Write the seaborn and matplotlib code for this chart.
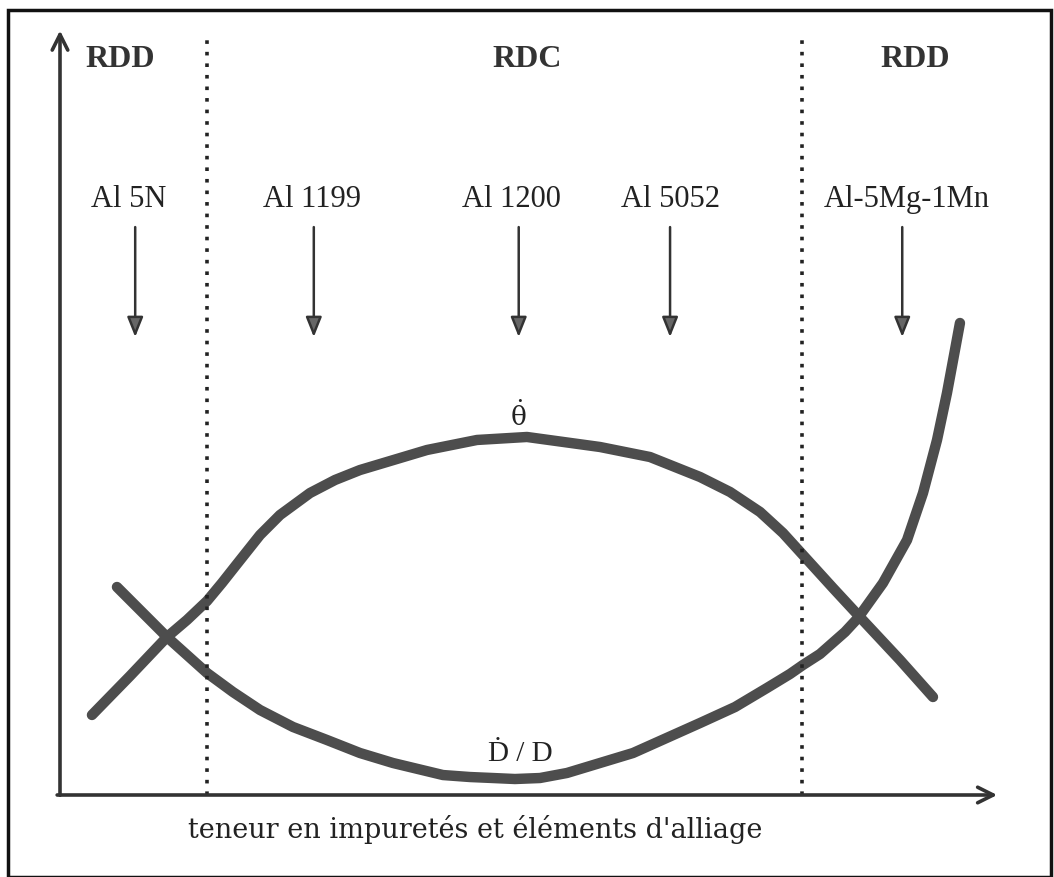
import numpy as np
import pandas as pd
import matplotlib.pyplot as plt
import seaborn as sns
from matplotlib.patches import Rectangle

# Données du schéma (échelle arbitraire 0-100)
theta_x = [3.4, 7.45, 11.38, 13.51, 15.64, 17.23, 18.83, 21.28, 23.4, 26.6, 29.26, 31.91,
           39.04, 44.36, 49.68, 57.45, 62.77, 68.09, 71.28, 74.47, 76.91, 79.04, 82.23,
           84.89, 89.36, 92.87]
theta_y = [10.46, 15.56, 20.65, 22.88, 25.36, 27.71, 30.2, 33.99, 36.6, 39.48, 41.18, 42.48,
           45.1, 46.41, 46.8, 45.49, 44.18, 41.57, 39.61, 37.0, 34.25, 31.37, 27.06,
           23.53, 17.65, 12.81]

dd_x = [6.06, 8.72, 11.38, 15.64, 18.4, 21.28, 24.79, 28.4, 31.91, 35.43, 40.74, 43.62,
        46.06, 48.4, 51.06, 53.94, 60.96, 68.09, 71.81, 75.21, 77.66, 79.04, 80.85,
        83.51, 84.89, 87.55, 90.11, 91.81, 93.3, 94.36, 95.21, 95.74]
dd_y = [27.19, 23.92, 20.65, 15.95, 13.46, 11.11, 8.89, 7.19, 5.49, 4.18, 2.61, 2.35,
        2.22, 2.09, 2.22, 2.88, 5.49, 9.41, 11.5, 13.99, 15.82, 17.0, 18.43,
        21.31, 23.14, 27.71, 33.33, 39.48, 46.41, 52.55, 58.17, 61.7]

limites = [15.6, 78.9]
regions = ["RDD", "RDC", "RDD"]
regions_x = [6.4, 49.7, 91.0]
alliages = ["Al 5N", "Al 1199", "Al 1200", "Al 5052", "Al-5Mg-1Mn"]
alliages_x = [7.3, 26.8, 48.0, 64.9, 90.1]
fleches_x = [8.0, 27.0, 48.8, 64.9, 89.6]

sns.set_theme(style="white")
plt.rcParams['font.family'] = ['Liberation Serif', 'DejaVu Serif']

fig = plt.figure(figsize=(10.54, 8.77), dpi=100)
W, H = 1054, 877
# axes : origine à (60, 795) px, extrémité (1000, 30) px
ax = fig.add_axes([60 / W, 1 - 795 / H, 940 / W, 765 / H])
ax.set_xlim(0, 100)
ax.set_ylim(0, 100)
ax.axis('off')

couleur = '#4d4d4d'
df_theta = pd.DataFrame({"x": theta_x, "y": theta_y})
df_dd = pd.DataFrame({"x": dd_x, "y": dd_y})
for df in [df_theta, df_dd]:
    sns.lineplot(data=df, x="x", y="y", ax=ax, color=couleur, lw=7.5,
                 estimator=None, sort=False, solid_capstyle='round',
                 solid_joinstyle='round', clip_on=False)

# axes fléchés
ax.annotate("", xy=(100, 0), xytext=(-0.6, 0),
            arrowprops=dict(arrowstyle="->", lw=2.6, color='#333', mutation_scale=28),
            annotation_clip=False)
ax.annotate("", xy=(0, 100.3), xytext=(0, -0.4),
            arrowprops=dict(arrowstyle="->", lw=2.6, color='#333', mutation_scale=28),
            annotation_clip=False)

# limites de régimes
for lx in limites:
    ax.plot([lx, lx], [0, 99.5], color='#222', lw=2.6, ls=(0, (1, 2.2)), clip_on=False)

for nom, rx in zip(regions, regions_x):
    ax.text(rx, 96.1, nom, ha='center', va='center', fontsize=23, fontweight='bold', color='#333')

for nom, axx, fx in zip(alliages, alliages_x, fleches_x):
    ax.text(axx, 77.8, nom, ha='center', va='center', fontsize=22, color='#222')
    ax.annotate("", xy=(fx, 59.5), xytext=(fx, 74.6),
                arrowprops=dict(arrowstyle="-|>,head_length=0.55,head_width=0.22", lw=1.8,
                                color='#333', mutation_scale=22, fc='#666'))

ax.text(48.8, 49.6, r"$\dot{\mathrm{\theta}}$", ha='center', va='center', fontsize=19,
        color='#222', math_fontfamily='dejavuserif')
ax.text(49.0, 5.4, "\u1e0a / D", ha='center', va='center', fontsize=21, color='#222')

fig.text(475 / W, 1 - 830 / H, "teneur en impuretés et éléments d'alliage",
         ha='center', va='center', fontsize=19.5, family='DejaVu Serif', color='#222')

# cadre
fig.patches.append(Rectangle((8 / W, 0), 1043 / W, 1 - 10 / H, transform=fig.transFigure,
                             fill=False, lw=2.5, ec='#111'))

fig.savefig("out.png", dpi=100, facecolor='white')
